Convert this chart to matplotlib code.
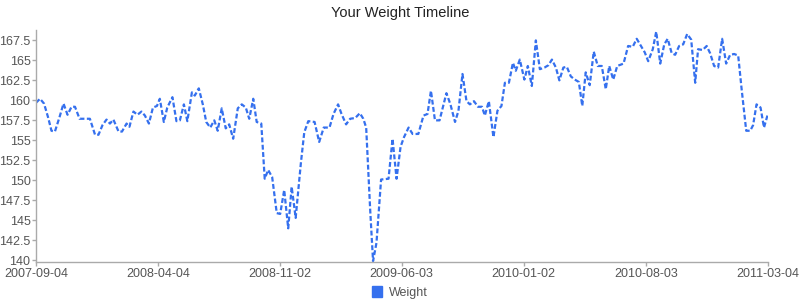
import numpy as np
import matplotlib
matplotlib.use("Agg")
import matplotlib.pyplot as plt
from matplotlib.patches import Patch

plt.rcParams['font.family'] = ['Liberation Sans', 'DejaVu Sans']

title = "Your Weight Timeline"
series_name = "Weight"
start_date = "2007-09-04"
end_date = "2011-03-04"

day_offsets = [
    0, 7, 14, 21, 27, 33, 41, 48, 55, 62, 68, 76, 85, 94, 103, 109, 116, 123, 129, 135,
    144, 150, 158, 163, 170, 177, 184, 190, 197, 204, 211, 216, 223, 229, 238, 245, 251, 258, 264, 272,
    277, 284, 291, 297, 304, 311, 317, 324, 331, 337, 344, 352, 359, 366, 372, 379, 385, 393, 399, 405,
    412, 420, 426, 433, 440, 446, 453, 462, 468, 475, 486, 494, 502, 512, 519, 527, 533, 541, 548, 557,
    565, 571, 576, 583, 588, 594, 602, 615, 622, 629, 636, 642, 650, 657, 667, 676, 683, 689, 696, 704,
    711, 716, 723, 731, 737, 744, 751, 757, 764, 771, 778, 783, 790, 798, 805, 812, 818, 825, 832, 837,
    844, 852, 858, 865, 872, 879, 887, 894, 900, 907, 913, 920, 926, 933, 940, 947, 953, 959, 966, 973,
    980, 987, 994, 1000, 1007, 1014, 1025, 1033, 1041, 1048, 1057, 1062, 1068, 1076, 1082, 1089, 1096, 1102, 1109, 1115,
    1122, 1129, 1136, 1143, 1150, 1155, 1163, 1170, 1176, 1183, 1190, 1197, 1204, 1211, 1218, 1225, 1231, 1239, 1246, 1251,
    1257, 1264, 1270, 1276,
]

weights = [
    159.7, 160.2, 159.6, 157.9, 156.2, 156.1, 157.9, 159.6, 158.2, 159.2, 159.2, 157.7, 157.7, 157.7, 155.7, 155.7, 156.9, 157.6, 157.1, 157.6,
    156.1, 156.1, 157.1, 156.7, 158.6, 158.2, 158.6, 158.1, 157.1, 159.1, 159.3, 160.2, 157.3, 159.1, 160.4, 157.4, 157.5, 159.5, 157.4, 161.0,
    160.6, 161.5, 159.5, 157.3, 156.6, 157.5, 156.2, 159.0, 156.5, 157.0, 155.2, 159.0, 159.5, 159.1, 157.7, 160.2, 157.3, 157.1, 150.2, 151.3,
    150.4, 145.9, 145.8, 148.8, 144.0, 149.2, 145.3, 152.1, 156.0, 157.4, 157.3, 154.8, 156.6, 156.6, 158.3, 159.5, 158.3, 157.0, 157.7, 157.8,
    158.4, 157.7, 156.6, 146.3, 139.9, 142.2, 150.1, 150.2, 155.2, 150.2, 154.2, 155.4, 156.6, 155.8, 155.8, 158.1, 158.3, 161.2, 157.5, 157.5,
    159.5, 160.9, 159.5, 157.3, 158.7, 163.3, 159.9, 159.5, 159.9, 159.2, 159.2, 158.1, 159.9, 155.4, 158.7, 159.3, 162.2, 162.2, 164.7, 163.7,
    165.1, 162.6, 164.3, 161.8, 167.5, 163.9, 164.1, 164.4, 165.1, 164.1, 162.5, 164.1, 164.2, 163.0, 162.6, 162.3, 159.3, 163.5, 161.9, 166.1,
    164.3, 164.3, 161.4, 164.3, 162.6, 164.3, 164.6, 166.8, 166.7, 167.7, 166.6, 166.0, 164.9, 166.4, 168.6, 164.6, 167.0, 167.7, 165.9, 165.7,
    166.8, 167.0, 168.3, 167.6, 162.2, 166.4, 166.3, 166.8, 165.9, 164.3, 164.1, 167.7, 164.6, 165.7, 165.8, 165.6, 161.4, 156.2, 156.2, 156.9,
    159.5, 159.1, 156.6, 158.1,
]

x_tick_labels = ["2007-09-04", "2008-04-04", "2008-11-02", "2009-06-03",
                 "2010-01-02", "2010-08-03", "2011-03-04"]
y_ticks = [140, 142.5, 145, 147.5, 150, 152.5, 155, 157.5, 160, 162.5, 165, 167.5]

dates = np.datetime64(start_date) + np.array(day_offsets).astype('timedelta64[D]')

fig = plt.figure(figsize=(8, 3), dpi=100)
ax = fig.add_axes([0.045, 0.127, 0.915, 0.773])

line_color = "#3570ee"
ax.plot(dates, weights, color=line_color, lw=1.6, linestyle=(0, (2.2, 1.1)),
        dash_capstyle='butt')

ax.set_xlim(np.datetime64(start_date), np.datetime64(end_date))
ax.set_ylim(139.8, 168.8)
ax.set_xticks([np.datetime64(d) for d in x_tick_labels])
ax.set_xticklabels(x_tick_labels)
ax.set_yticks(y_ticks)
ax.set_yticklabels([f"{v:g}" for v in y_ticks])

for s in ["top", "right"]:
    ax.spines[s].set_visible(False)
for s in ["left", "bottom"]:
    ax.spines[s].set_color("#aaaaaa")
    ax.spines[s].set_linewidth(1)
ax.tick_params(axis='both', colors="#aaaaaa", labelcolor="#555555", labelsize=9,
               length=3, width=1, pad=1.5)
ax.tick_params(axis='y', pad=1)

fig.text(0.5, 0.955, title, ha='center', va='center', fontsize=10.5, color="#222222")

handle = Patch(facecolor=line_color, edgecolor=line_color)
fig.legend([handle], [series_name], loc='center', bbox_to_anchor=(0.5, 0.025),
           frameon=False, fontsize=9, labelcolor="#555555",
           handlelength=0.8, handleheight=0.9, handletextpad=0.6)

fig.savefig("out.png", dpi=100)
